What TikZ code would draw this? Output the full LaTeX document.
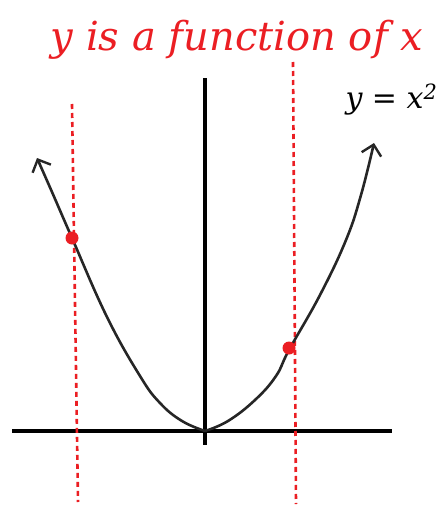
\documentclass[tikz,border=0pt]{standalone}
\usepackage{fontspec}
\setmainfont{DejaVu Serif}
\usetikzlibrary{arrows.meta}
\definecolor{penred}{RGB}{235,30,35}
\tikzset{
  axisline/.style={line width=3.6pt, black},
  curveline/.style={line width=2.6pt, black!85, line cap=round, line join=round},
  reddash/.style={penred, line width=2.6pt, dash pattern=on 5pt off 4pt},
  reddot/.style={circle, fill=penred, inner sep=0pt, minimum size=13pt},
  handtip/.style={-{Straight Barb[length=10pt, width=20pt, line width=2.4pt]}}
}
\begin{document}
\begin{tikzpicture}[x=1pt, y=-1pt]
\useasboundingbox (0,0) rectangle (444,506);
% axes
\coordinate (ytop) at (205,78);
\coordinate (ybot) at (205,445);
\coordinate (xl) at (12,431);
\coordinate (xr) at (392,431);
\draw[axisline] (ytop) -- (ybot);
\draw[axisline] (xl) -- (xr);
% red vertical lines
\coordinate (l1) at (72,104);
\coordinate (l2) at (78,502);
\coordinate (r1) at (293,62);
\coordinate (r2) at (296,504);
\draw[reddash] (l1) -- (l2);
\draw[reddash] (r1) -- (r2);
% parabola
\draw[curveline, handtip] plot[smooth, tension=0.7] coordinates {
  (205,431) (228,421) (255,400) (276,376) (289,350) (320,295) (346,240) (361,195) (374,143)};
\draw[curveline, handtip] plot[smooth, tension=0.7] coordinates {
  (205,431) (182,421) (160,403) (140,376) (107,317) (72,238) (52,192) (37,158)};
% dots
\node[reddot] (pl) at (72,238) {};
\node[reddot] (pr) at (289,348) {};
% labels
\node[penred, font=\fontsize{40}{40}\selectfont\itshape] (title) at (237,40) {y is a function of x};
\node[black, font=\fontsize{30}{30}\selectfont\itshape, anchor=west] (eq) at (342,100) {y = x\textsuperscript{2}};
\end{tikzpicture}
\end{document}
